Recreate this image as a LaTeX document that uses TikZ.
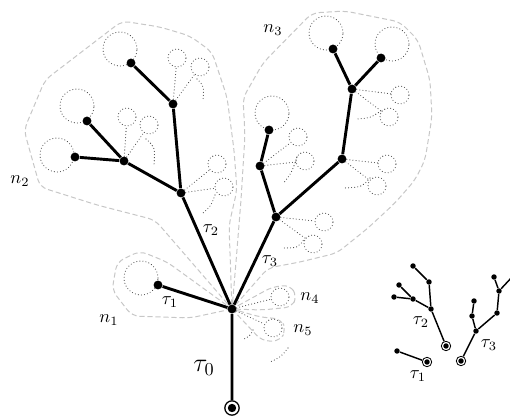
\documentclass[tikz,border=0pt]{standalone}
\usepackage{amsmath}
\usepackage{tikz}
\usetikzlibrary{calc}
\tikzset{
    vtx/.style={circle, fill, inner sep=0pt, minimum size=4.9pt},
    svtx/.style={circle, fill, inner sep=0pt, minimum size=3pt},
    rootv/.style={circle, draw, line width=0.7pt, inner sep=0pt, minimum size=7.9pt,
            path picture={\fill (path picture bounding box.center) circle (2.3pt);}},
    srootv/.style={circle, draw, line width=0.45pt, inner sep=0pt, minimum size=5.2pt,
            path picture={\fill (path picture bounding box.center) circle (1.5pt);}},
    branch/.style={line width=1.6pt},
    sbranch/.style={line width=0.8pt},
    ghost/.style={black!75, line width=0.6pt, line cap=round, dash pattern=on 0pt off 1.7pt},
    blob/.style={circle, draw, ghost, inner sep=0pt, minimum size=18.7pt},
    sblob/.style={circle, draw, ghost, inner sep=0pt, minimum size=9.9pt},
    hull/.style={black!22, line width=0.55pt, dash pattern=on 2.8pt off 1.6pt, rounded corners=4pt},
}
\begin{document}
\begin{tikzpicture}[x=0.55pt, y=-0.55pt]
    \clip (0,0) rectangle (510,417);
    \coordinate (hub) at (232,309);
    % the groups n1 ... n5
    \draw[hull] (hub) -- (167,262) -- (140,251) -- (117,262) -- (112,290) -- (132,316) -- (190,318) -- cycle;
    \draw[hull] (hub) -- (155,220) -- (97,205) -- (40,187) -- (24,130) -- (45,80) -- (122,21) -- (160,27) -- (190,36) -- (212,52) -- (227,97) -- (234,150) -- (237,190) -- (229,225) -- cycle;
    \draw[hull] (hub) -- (236,262) -- (241,200) -- (245,135) -- (243,98) -- (263,63) -- (312,13) -- (345,11) -- (400,22) -- (418,40) -- (430,80) -- (432,117) -- (425,160) -- (415,180) -- (395,203) -- (368,228) -- (337,253) -- (300,262) -- (268,268) -- cycle;
    \draw[hull] (hub) -- (272,287) -- (290,285) -- (297,296) -- (292,307) -- (262,310) -- cycle;
    \draw[hull] (hub) -- (260,317) -- (281,319) -- (286,330) -- (280,341) -- (262,341) -- cycle;

    % big tree
    \node[rootv] (r) at (232,408) {};
    \node[vtx] (v) at (hub) {};
    \node[blob] (t1c) at (141,278) {};
    \node[vtx] (t1) at (158,285) {};
    \node[vtx] (a) at (181,193) {};
    \node[vtx] (b) at (124,161) {};
    \node[vtx] (c) at (173,104) {};
    \node[blob] (blc) at (57,155) {};
    \node[vtx] (bl) at (75,157) {};
    \node[blob] (bmc) at (77,106) {};
    \node[vtx] (bm) at (87,121) {};
    \node[blob] (ctc) at (120,49) {};
    \node[vtx] (ct) at (131,63) {};
    \node[vtx] (d) at (276,217) {};
    \node[vtx] (e) at (260,166) {};
    \node[blob] (elc) at (272,113) {};
    \node[vtx] (el) at (269,130) {};
    \node[vtx] (f) at (342,159) {};
    \node[vtx] (g) at (352,89) {};
    \node[blob] (glc) at (326,33) {};
    \node[vtx] (gl) at (333,49) {};
    \node[blob] (grc) at (392,44) {};
    \node[vtx] (gr) at (381,58) {};

    % dotted side branches
    \node[sblob] (n4c) at (280,297) {};
    \node[sblob] (n5c) at (273,328) {};
    \draw[ghost] (v) -- (n4c) (v) -- (n5c)
        (253,330) .. controls (250,336) .. (242,340)
        (288,348) .. controls (281,357) .. (270,362);
    \node[sblob] (a1) at (217,164) {};
    \node[sblob] (a2) at (224,187) {};
    \draw[ghost] (a) -- (a1) (a) -- (a2) (215,195) .. controls (211,206) .. (203,213);
    \node[sblob] (b1) at (127,117) {};
    \node[sblob] (b2) at (149,125) {};
    \draw[ghost] (b) -- (b1) (b) -- (b2) (146,139) .. controls (155,147) .. (154,165);
    \node[sblob] (c1) at (177,58) {};
    \node[sblob] (c2) at (200,67) {};
    \draw[ghost] (c) -- (c1) (c) -- (c2) (197,79) .. controls (204,86) .. (203,100);
    \node[sblob] (d1) at (324,222) {};
    \node[sblob] (d2) at (313,244) {};
    \draw[ghost] (d) -- (d1) (d) -- (d2) (305,238) .. controls (298,248) .. (283,248);
    \node[sblob] (e1) at (298,137) {};
    \node[sblob] (e2) at (305,161) {};
    \draw[ghost] (e) -- (e1) (e) -- (e2) (297,157) .. controls (292,172) .. (283,184);
    \node[sblob] (f1) at (387,164) {};
    \node[sblob] (f2) at (377,186) {};
    \draw[ghost] (f) -- (f1) (f) -- (f2) (370,178) .. controls (362,187) .. (345,188);
    \node[sblob] (g1) at (400,95) {};
    \node[sblob] (g2) at (389,117) {};
    \draw[ghost] (g) -- (g1) (g) -- (g2) (381,111) .. controls (370,118) .. (357,119);

    \draw[branch] (r) -- (v) (v) -- (t1) (v) -- (a) (a) -- (b) (b) -- (bl) (b) -- (bm)
        (a) -- (c) (c) -- (ct) (v) -- (d) (d) -- (e) (e) -- (el) (d) -- (f) (f) -- (g)
        (g) -- (gl) (g) -- (gr);

    % labels
    \node (lt0) at (204,368) {\Large $\tau_0$};
    \node (lt1) at (170,302) {$\tau_1$};
    \node (lt2) at (211,230) {$\tau_2$};
    \node (lt3) at (270,261) {$\tau_3$};
    \node (ln1) at (109,320) {$n_1$};
    \node (ln2) at (20,181) {$n_2$};
    \node (ln3) at (273,30) {$n_3$};
    \node (ln4) at (310,298) {$n_4$};
    \node (ln5) at (303,330) {$n_5$};

    % the subtrees on their own
    \node[srootv] (sr1) at (427,362) {};
    \node[svtx] (s1) at (397,351) {};
    \node[srootv] (sr2) at (446,346) {};
    \node[svtx] (sa) at (431,309) {};
    \node[svtx] (sb) at (413,299) {};
    \node[svtx] (sbl) at (394,297) {};
    \node[svtx] (sbm) at (399,285) {};
    \node[svtx] (sc) at (429,282) {};
    \node[svtx] (sct) at (413,266) {};
    \node[srootv] (sr3) at (461,361) {};
    \node[svtx] (sd) at (476,331) {};
    \node[svtx] (se) at (472,316) {};
    \node[svtx] (sel) at (474,301) {};
    \node[svtx] (sf) at (497,313) {};
    \node[svtx] (sg) at (499,291) {};
    \node[svtx] (sgl) at (494,277) {};
    \node[svtx] (sgr) at (513,276) {};
    \draw[sbranch] (sr1) -- (s1)
        (sr2) -- (sa) (sa) -- (sb) (sb) -- (sbl) (sb) -- (sbm) (sa) -- (sc) (sc) -- (sct)
        (sr3) -- (sd) (sd) -- (se) (se) -- (sel) (sd) -- (sf) (sf) -- (sg) (sg) -- (sgl) (sg) -- (sgr);
    \node (st1) at (418,376) {$\tau_1$};
    \node (st2) at (421,322) {$\tau_2$};
    \node (st3) at (489,345) {$\tau_3$};
\end{tikzpicture}
\end{document}
